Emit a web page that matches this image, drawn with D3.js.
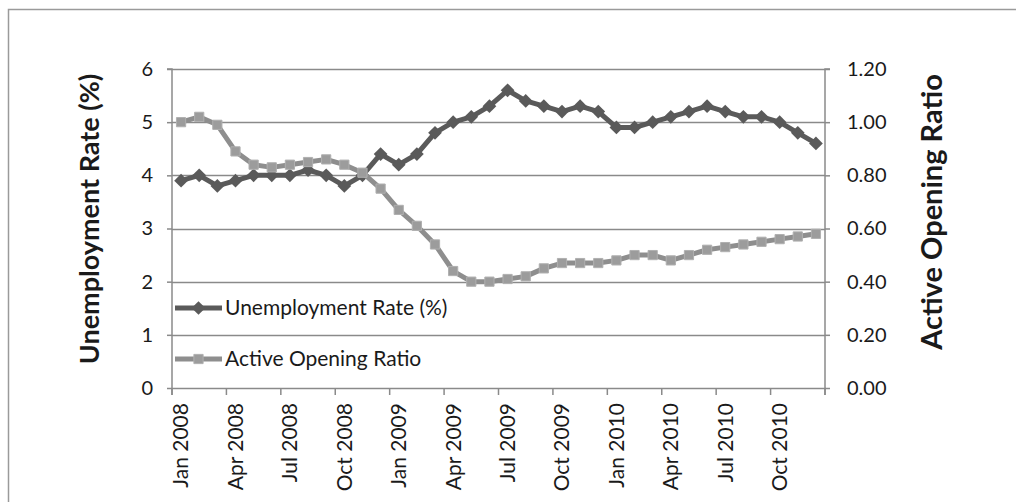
<!DOCTYPE html>
<html>
<head>
<meta charset="utf-8">
<script src="https://cdn.jsdelivr.net/npm/d3@7"></script>
<style>
  html, body { margin: 0; padding: 0; background: #fff; }
  svg { display: block; }
  text { font-family: Lato, "Open Sans", sans-serif; fill: #1a1a1a; }
</style>
</head>
<body>
<svg id="chart" width="1016" height="502"></svg>
<script>
// Monthly series, Jan 2008 – Dec 2010
const months = [
  "Jan 2008","Feb 2008","Mar 2008","Apr 2008","May 2008","Jun 2008",
  "Jul 2008","Aug 2008","Sep 2008","Oct 2008","Nov 2008","Dec 2008",
  "Jan 2009","Feb 2009","Mar 2009","Apr 2009","May 2009","Jun 2009",
  "Jul 2009","Aug 2009","Sep 2009","Oct 2009","Nov 2009","Dec 2009",
  "Jan 2010","Feb 2010","Mar 2010","Apr 2010","May 2010","Jun 2010",
  "Jul 2010","Aug 2010","Sep 2010","Oct 2010","Nov 2010","Dec 2010"
];
const unemploymentRate = [
  3.9, 4.0, 3.8, 3.9, 4.0, 4.0, 4.0, 4.1, 4.0, 3.8, 4.0, 4.4,
  4.2, 4.4, 4.8, 5.0, 5.1, 5.3, 5.6, 5.4, 5.3, 5.2, 5.3, 5.2,
  4.9, 4.9, 5.0, 5.1, 5.2, 5.3, 5.2, 5.1, 5.1, 5.0, 4.8, 4.6
];
const activeOpeningRatio = [
  1.00, 1.02, 0.99, 0.89, 0.84, 0.83, 0.84, 0.85, 0.86, 0.84, 0.81, 0.75,
  0.67, 0.61, 0.54, 0.44, 0.40, 0.40, 0.41, 0.42, 0.45, 0.47, 0.47, 0.47,
  0.48, 0.50, 0.50, 0.48, 0.50, 0.52, 0.53, 0.54, 0.55, 0.56, 0.57, 0.58
];
const leftTicks = [0, 1, 2, 3, 4, 5, 6];
const rightTicks = [0, 0.2, 0.4, 0.6, 0.8, 1.0, 1.2];
const labelledMonths = months.filter((m, i) => i % 3 === 0);

const seriesNames = ["Unemployment Rate (%)", "Active Opening Ratio"];
const leftTitle = "Unemployment Rate (%)";
const rightTitle = "Active Opening Ratio";

const svg = d3.select("#chart");
const plot = { left: 172, right: 825, top: 69, bottom: 388 };

const gridColor = "#8a8a8a";
const darkLine = "#5a5a5a";
const lightLine = "#8e8e8e";
const lightFill = "#9c9c9c";

// outer frame
svg.append("rect")
  .attr("x", 8.5).attr("y", 9.5)
  .attr("width", 1040).attr("height", 540)
  .attr("fill", "none").attr("stroke", "#9a9a9a").attr("stroke-width", 1.5);

const x = d3.scaleBand().domain(months).range([plot.left, plot.right]).padding(0);
const yL = d3.scaleLinear().domain([0, 6]).range([plot.bottom, plot.top]);
const yR = d3.scaleLinear().domain([0, 1.2]).range([plot.bottom, plot.top]);
const cx = m => x(m) + x.bandwidth() / 2;

// horizontal gridlines
svg.append("g").selectAll("line").data(leftTicks.filter(t => t > 0)).join("line")
  .attr("x1", plot.left).attr("x2", plot.right)
  .attr("y1", d => Math.round(yL(d)) + 0.5).attr("y2", d => Math.round(yL(d)) + 0.5)
  .attr("stroke", gridColor).attr("stroke-width", 1.5);

// left axis
const axL = svg.append("g").attr("transform", `translate(${plot.left},0)`)
  .call(d3.axisLeft(yL).tickValues(leftTicks).tickFormat(d3.format("d")).tickSize(5).tickPadding(14));
// right axis
const axR = svg.append("g").attr("transform", `translate(${plot.right},0)`)
  .call(d3.axisRight(yR).tickValues(rightTicks).tickFormat(d3.format(".2f")).tickSize(5).tickPadding(17));
// bottom axis: tick marks on every third band boundary
const bottomTicks = months.filter((m, i) => i % 3 === 0);
const axB = svg.append("g").attr("transform", `translate(0,${plot.bottom})`);
axB.append("line").attr("x1", plot.left).attr("x2", plot.right + 0.5)
  .attr("y1", 0.5).attr("y2", 0.5).attr("stroke", gridColor).attr("stroke-width", 1.5);
axB.selectAll("line.tk").data(bottomTicks.concat(["end"])).join("line").attr("class", "tk")
  .attr("x1", d => d === "end" ? plot.right : x(d))
  .attr("x2", d => d === "end" ? plot.right : x(d))
  .attr("y1", 0).attr("y2", 7)
  .attr("stroke", gridColor).attr("stroke-width", 1.5);
axB.selectAll("text").data(labelledMonths).join("text")
  .attr("transform", d => `translate(${cx(d)},15) rotate(-90)`)
  .attr("text-anchor", "end").attr("dy", "0.35em")
  .style("font-size", "21px")
  .text(d => d);

[axL, axR].forEach(ax => {
  ax.select(".domain").attr("stroke", gridColor).attr("stroke-width", 1.5);
  ax.selectAll(".tick line").attr("stroke", gridColor).attr("stroke-width", 1.5);
  ax.selectAll(".tick text").style("font-size", "20px").attr("fill", "#1a1a1a");
});
axL.select(".domain").attr("d", `M-5,${plot.top}H0V${plot.bottom + 7}`);
axR.select(".domain").attr("d", `M5,${plot.top}H0V${plot.bottom + 7}`);

// axis titles
svg.append("text")
  .attr("transform", `translate(90,219) rotate(-90)`)
  .attr("text-anchor", "middle").attr("dy", "0.35em")
  .style("font-size", "27px").style("font-weight", "bold")
  .text(leftTitle);
svg.append("text")
  .attr("transform", `translate(932,212) rotate(-90)`)
  .attr("text-anchor", "middle").attr("dy", "0.35em")
  .style("font-size", "29px").style("font-weight", "bold")
  .text(rightTitle);

const diamond = d3.symbol().type(d3.symbolDiamond2).size(120);
const square = d3.symbol().type(d3.symbolSquare).size(85);

// unemployment series (left axis)
const lineL = d3.line().x((d, i) => cx(months[i])).y(d => yL(d));
svg.append("path").datum(unemploymentRate)
  .attr("d", lineL).attr("fill", "none")
  .attr("stroke", darkLine).attr("stroke-width", 5).attr("stroke-linejoin", "round");
svg.append("g").selectAll("path").data(unemploymentRate).join("path")
  .attr("d", diamond)
  .attr("transform", (d, i) => `translate(${cx(months[i])},${yL(d)})`)
  .attr("fill", darkLine);

// active opening ratio series (right axis)
const lineR = d3.line().x((d, i) => cx(months[i])).y(d => yR(d));
svg.append("path").datum(activeOpeningRatio)
  .attr("d", lineR).attr("fill", "none")
  .attr("stroke", lightLine).attr("stroke-width", 5).attr("stroke-linejoin", "round");
svg.append("g").selectAll("path").data(activeOpeningRatio).join("path")
  .attr("d", square)
  .attr("transform", (d, i) => `translate(${cx(months[i])},${yR(d)})`)
  .attr("fill", lightFill).attr("stroke", "#b0b0b0").attr("stroke-width", 1);

// legend
const legend = svg.append("g");
const legendRows = [
  { name: seriesNames[0], y: 308, color: darkLine, sym: diamond, fill: darkLine, stroke: "none" },
  { name: seriesNames[1], y: 359, color: lightLine, sym: square, fill: lightFill, stroke: "#b0b0b0" }
];
legendRows.forEach(r => {
  legend.append("line").attr("x1", 175).attr("x2", 222).attr("y1", r.y).attr("y2", r.y)
    .attr("stroke", r.color).attr("stroke-width", 5);
  legend.append("path").attr("d", r.sym).attr("transform", `translate(198.5,${r.y})`)
    .attr("fill", r.fill).attr("stroke", r.stroke);
  legend.append("text").attr("x", 225).attr("y", r.y).attr("dy", "0.35em")
    .style("font-size", "21px").text(r.name);
});
</script>
</body>
</html>
